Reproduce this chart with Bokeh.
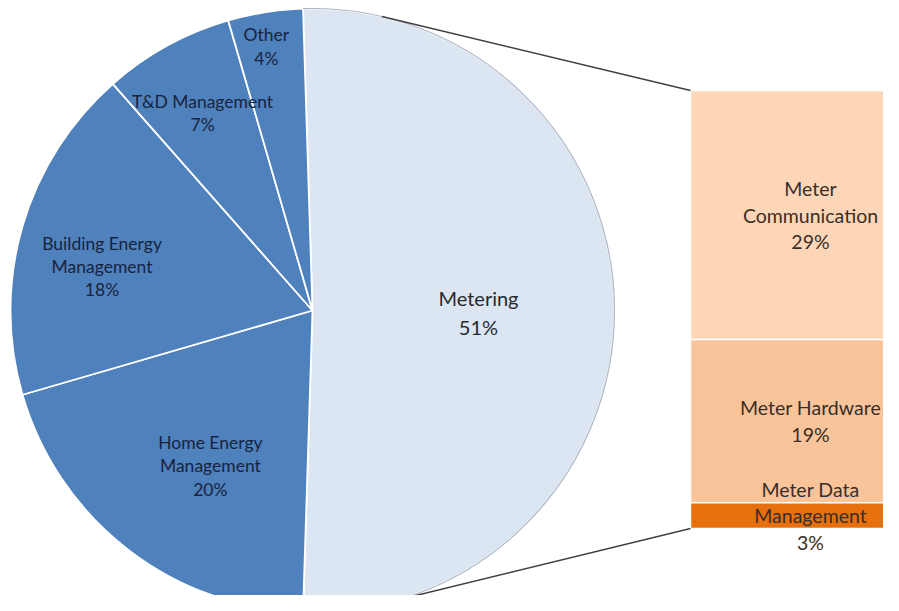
import numpy as np
from bokeh.plotting import figure
from bokeh.models import Range1d, ColumnDataSource
from bokeh.core.properties import value
from bokeh.embed import file_html
from bokeh.resources import INLINE

# ---- data ----
main_labels = ["Metering", "Home Energy\nManagement", "Building Energy\nManagement", "T&D Management", "Other"]
main_values = [51, 20, 18, 7, 4]
sub_labels = ["Meter\nCommunication", "Meter Hardware", "Meter Data\nManagement"]
sub_values = [29, 19, 3]

# ---- style / layout ----
main_colors = ["#DCE6F2", "#4F81BD", "#4F81BD", "#4F81BD", "#4F81BD"]
sub_colors = ["#FCD6B7", "#FAC49A", "#E7700E"]
label_r = [166, 186, 215, 226, 268]
label_nudge = [-0.7, 4.5, 4.4, 0.3, 0.9]
label_colors = ["#262A33", "#17243F", "#17243F", "#17243F", "#17243F"]
label_sizes = ["20px", "17.5px", "17.5px", "17.5px", "17.5px"]
label_lh = [1.19, 1.1, 1.1, 1.1, 1.1]

IMG_H = 611
CX, CY, R = 312, IMG_H - 310, 302
BAR_L, BAR_R = 690, 934
BAR_TOP, BAR_BOT = IMG_H - 90, IMG_H - 528
conn_angles = [76.7, -72.6]

W, H = 883, 595
p = figure(width=W, height=H, x_range=Range1d(0, W), y_range=Range1d(IMG_H - H, IMG_H),
           output_backend="svg", toolbar_location=None,
           x_axis_location=None, y_axis_location=None, min_border=0)
p.grid.visible = False
p.outline_line_color = None
p.background_fill_color = "white"
p.border_fill_color = "white"

# ---- pie: Metering centred on the right, the rest clockwise from its lower edge ----
total = float(sum(main_values))
fr = np.array(main_values) / total * 2 * np.pi
starts, ends = [-fr[0] / 2], [fr[0] / 2]
a = -fr[0] / 2
for f in fr[1:]:
    ends.append(a)
    starts.append(a - f)
    a -= f
mids = [(s + e) / 2 for s, e in zip(starts, ends)]

src = ColumnDataSource(dict(start=starts, end=ends, color=main_colors))
p.wedge(x=CX, y=CY, radius=R, start_angle="start", end_angle="end",
        fill_color="color", line_color="white", line_width=1.8, source=src)
p.arc(x=CX, y=CY, radius=R, start_angle=starts[0], end_angle=ends[0],
      line_color="#AEB7C4", line_width=1.2)

for i, (lab, v) in enumerate(zip(main_labels, main_values)):
    ang = mids[i] + np.deg2rad(label_nudge[i])
    p.text(x=[CX + label_r[i] * np.cos(ang)], y=[CY + label_r[i] * np.sin(ang)],
           text=[f"{lab}\n{v}%"], text_align="center", text_baseline="middle",
           text_font=value("Lato"), text_font_size=label_sizes[i], text_color=label_colors[i],
           text_line_height=label_lh[i])

# ---- bar of pie ----
scale = (BAR_TOP - BAR_BOT) / float(sum(sub_values))
tops, bots = [], []
y = BAR_TOP
for v in sub_values:
    tops.append(y)
    bots.append(y - v * scale)
    y -= v * scale
bsrc = ColumnDataSource(dict(top=tops, bottom=bots, color=sub_colors))
p.quad(left=BAR_L, right=BAR_R, top="top", bottom="bottom", fill_color="color",
       line_color="white", line_width=1.5, source=bsrc)

bx = (BAR_L + BAR_R) / 2
for i, (lab, v) in enumerate(zip(sub_labels, sub_values)):
    yc = (tops[i] + bots[i]) / 2
    p.text(x=[bx - 2], y=[yc], text=[f"{lab}\n{v}%"], text_align="center", text_baseline="middle",
           text_font=value("Lato"), text_font_size="19.5px", text_color="#3A2E26",
           text_line_height=1.15)

# ---- connector lines ----
for ang, yb in zip(conn_angles, [BAR_TOP, BAR_BOT]):
    t = np.deg2rad(ang)
    p.line(x=[CX + R * np.cos(t), BAR_L], y=[CY + R * np.sin(t), yb],
           line_color="#404040", line_width=1.5)

open("out.html", "w").write(file_html(p, INLINE))
